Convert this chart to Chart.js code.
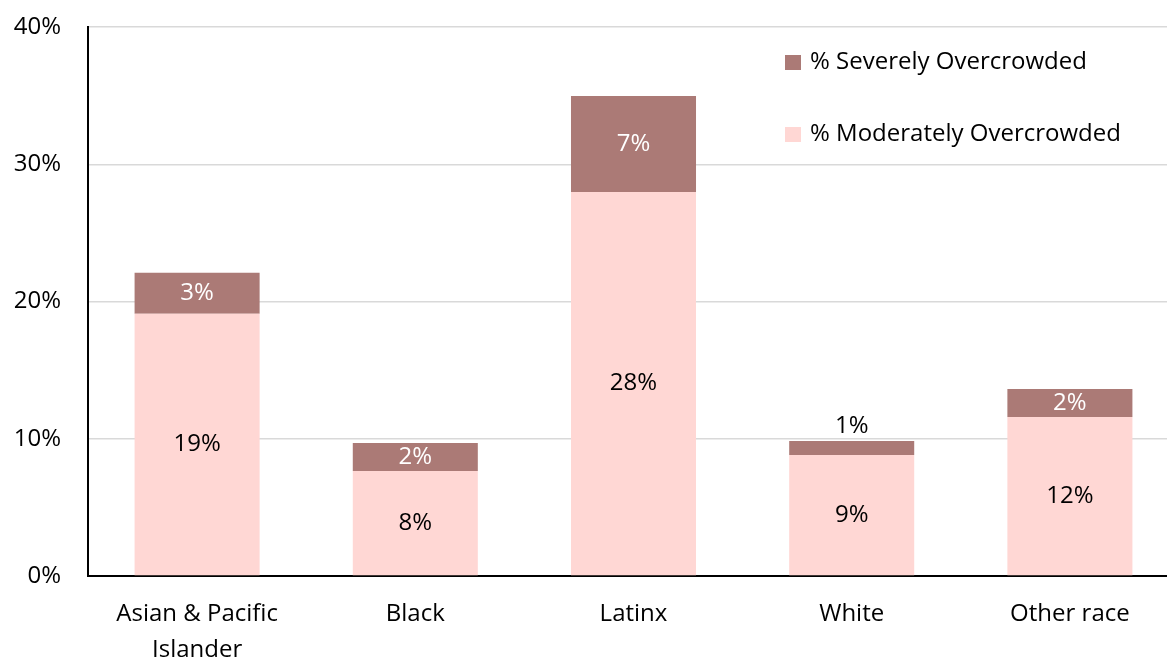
<!DOCTYPE html>
<html>
<head>
<meta charset="utf-8">
<script src="https://cdn.jsdelivr.net/npm/chart.js@4"></script>
<style>
  html, body { margin: 0; padding: 0; background: #fff; overflow: hidden; }
  #wrap { width: 1180px; height: 660px; }
</style>
</head>
<body>
<div id="wrap"><canvas id="myChart" width="1180" height="660"></canvas></div>
<script>
const categories = [["Asian & Pacific", "Islander"], "Black", "Latinx", "White", "Other race"];
const moderate = [19.1, 7.65, 27.98, 8.82, 11.58];
const severe = [2.99, 2.04, 6.99, 1.02, 2.04];
const yTicks = [0, 10, 20, 30, 40];

const FONT = "'Open Sans', Lato, sans-serif";
const MOD_COLOR = "#ffd7d4";
const SEV_COLOR = "#ab7a76";

// segment value labels, white on the dark segment, black above it when it is too thin
const barLabels = {
  id: "barLabels",
  afterDatasetsDraw(chart) {
    const ctx = chart.ctx;
    ctx.save();
    ctx.font = "24px " + FONT;
    ctx.textAlign = "center";
    ctx.textBaseline = "middle";
    chart.data.datasets.forEach((ds, di) => {
      chart.getDatasetMeta(di).data.forEach((bar, i) => {
        const text = Math.round(ds.data[i]) + "%";
        const h = bar.base - bar.y;
        if (di === 1 && h < 20) {
          ctx.fillStyle = "#000";
          ctx.fillText(text, bar.x, bar.y - 15);
        } else {
          ctx.fillStyle = di === 1 ? "#fff" : "#000";
          ctx.fillText(text, bar.x, (bar.y + bar.base) / 2);
        }
      });
    });
    ctx.restore();
  }
};

// legend box in the top right of the plot
const legendBox = {
  id: "legendBox",
  afterDraw(chart) {
    const ctx = chart.ctx;
    const items = [
      ["% Severely Overcrowded", SEV_COLOR, 62],
      ["% Moderately Overcrowded", MOD_COLOR, 134]
    ];
    ctx.save();
    ctx.font = "24px " + FONT;
    ctx.textBaseline = "middle";
    ctx.textAlign = "left";
    items.forEach(([label, color, y]) => {
      ctx.fillStyle = color;
      ctx.fillRect(785, y - 7, 16, 15);
      ctx.fillStyle = "#000";
      ctx.fillText(label, 810, y);
    });
    ctx.restore();
  }
};

new Chart(document.getElementById("myChart"), {
  type: "bar",
  data: {
    labels: categories,
    datasets: [
      { label: "% Moderately Overcrowded", data: moderate, backgroundColor: MOD_COLOR, categoryPercentage: 1, barPercentage: 0.573 },
      { label: "% Severely Overcrowded", data: severe, backgroundColor: SEV_COLOR, categoryPercentage: 1, barPercentage: 0.573 }
    ]
  },
  options: {
    responsive: false,
    animation: false,
    layout: { autoPadding: false, padding: { top: 27, right: 1, left: 0, bottom: 0 } },
    plugins: { legend: { display: false }, tooltip: { enabled: false } },
    scales: {
      x: {
        stacked: true,
        grid: { display: false },
        border: { color: "#000", width: 2 },
        ticks: { color: "#000", font: { family: FONT, size: 24, lineHeight: 1.5 }, padding: 12, maxRotation: 0, autoSkip: false },
        afterFit(scale) { scale.height = 84; }
      },
      y: {
        stacked: true,
        min: 0,
        max: 40,
        afterBuildTicks(scale) { scale.ticks = yTicks.map(v => ({ value: v })); },
        grid: { color: "#d9d9d9", lineWidth: 1.5, drawTicks: false },
        border: { color: "#000", width: 2 },
        ticks: { color: "#000", font: { family: FONT, size: 24 }, padding: 27, callback: v => v + "%" },
        afterFit(scale) {
          scale.width = 88;
          scale.paddingTop = 0;
          scale.paddingBottom = 0;
        }
      }
    }
  },
  plugins: [barLabels, legendBox]
});
</script>
</body>
</html>
